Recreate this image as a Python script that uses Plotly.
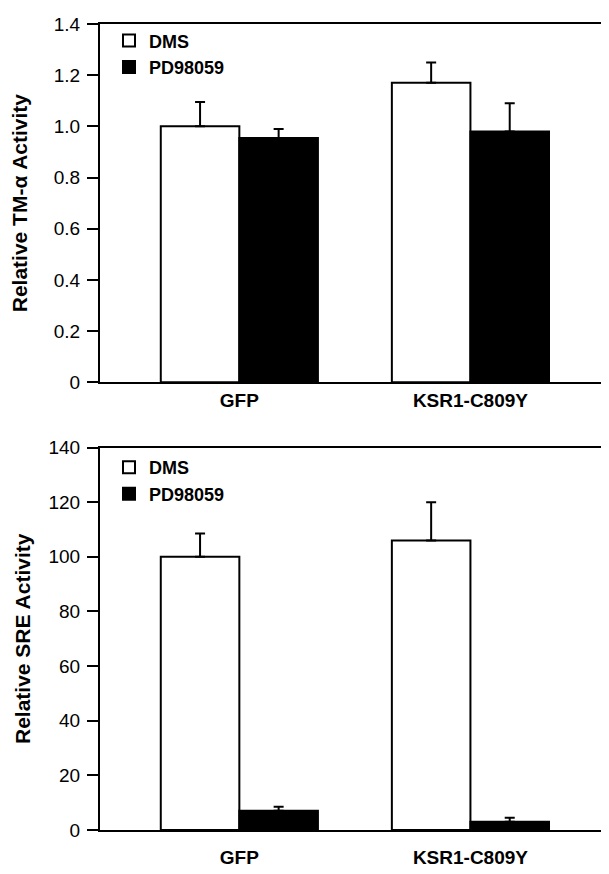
import plotly.graph_objects as go

categories = ["GFP", "KSR1-C809Y"]
series_names = ["DMS", "PD98059"]

tm_dms = [1.0, 1.17]
tm_dms_err = [0.095, 0.08]
tm_pd = [0.955, 0.98]
tm_pd_err = [0.035, 0.11]

sre_dms = [100, 106]
sre_dms_err = [8.5, 14]
sre_pd = [7, 3]
sre_pd_err = [1.5, 1.5]

tm_ticks = [0, 0.2, 0.4, 0.6, 0.8, 1.0, 1.2, 1.4]
tm_ticktext = ["0", "0.2", "0.4", "0.6", "0.8", "1.0", "1.2", "1.4"]
sre_ticks = [0, 20, 40, 60, 80, 100, 120, 140]

FONT = "Liberation Sans, Arial, Helvetica, sans-serif"
xpos = list(range(len(categories)))

fig = go.Figure()

def add_pair(dms, dms_err, pd, pd_err, yaxis, legend, xaxis):
    fig.add_trace(go.Bar(
        x=xpos, y=dms, name="<b>" + series_names[0] + "</b>", xaxis=xaxis, yaxis=yaxis, legend=legend,
        marker=dict(color="white", line=dict(color="black", width=2)),
        error_y=dict(type="data", array=dms_err, arrayminus=[0] * len(dms), symmetric=False,
                     color="black", thickness=2, width=5),
        offsetgroup="a",
    ))
    fig.add_trace(go.Bar(
        x=xpos, y=pd, name="<b>" + series_names[1] + "</b>", xaxis=xaxis, yaxis=yaxis, legend=legend,
        marker=dict(color="black", line=dict(color="black", width=2)),
        error_y=dict(type="data", array=pd_err, arrayminus=[0] * len(pd), symmetric=False,
                     color="black", thickness=2, width=5),
        offsetgroup="b",
    ))

add_pair(tm_dms, tm_dms_err, tm_pd, tm_pd_err, "y", "legend", "x")
add_pair(sre_dms, sre_dms_err, sre_pd, sre_pd_err, "y2", "legend2", "x2")

xr = [-0.603, 1.565]
common_x = dict(range=xr, tickvals=xpos, ticktext=["<b>" + c + "</b>" for c in categories],
                showline=True, linecolor="black",
                linewidth=2, mirror=True, ticks="", showgrid=False, zeroline=False,
                tickfont=dict(family=FONT, size=19, color="black"))
common_y = dict(showline=True, linecolor="black", linewidth=2, mirror=True, ticks="outside",
                ticklen=11, tickwidth=2, tickcolor="black", showgrid=False, zeroline=False,
                tickfont=dict(family=FONT, size=19, color="black"), ticklabelstandoff=3)

top_dom = [0.5555, 1.0]
bot_dom = [0.0, 0.4745]
legfont = dict(family=FONT, size=18, color="black")

fig.update_layout(
    width=601, height=866,
    margin=dict(l=92, r=6, t=9, b=38),
    paper_bgcolor="white", plot_bgcolor="white",
    barmode="group", bargap=0.32, bargroupgap=0,
    xaxis=dict(common_x, domain=[0, 1], anchor="y", ticklabelstandoff=0),
    yaxis=dict(common_y, domain=top_dom, range=[0, 1.4], tickvals=tm_ticks, ticktext=tm_ticktext,
               title=dict(text="<b>Relative TM-α Activity</b>", font=dict(family=FONT, size=21, color="black"), standoff=20),
               anchor="x"),
    xaxis2=dict(common_x, domain=[0, 1], anchor="y2", ticklabelstandoff=9),
    yaxis2=dict(common_y, domain=bot_dom, range=[0, 140], tickvals=sre_ticks,
                title=dict(text="<b>Relative SRE Activity</b>", font=dict(family=FONT, size=21, color="black"), standoff=12),
                anchor="x2"),
    legend=dict(x=0.018, y=top_dom[1] + 0.002, xanchor="left", yanchor="top", bgcolor="rgba(0,0,0,0)",
                font=legfont, tracegroupgap=0, itemwidth=30, traceorder="normal"),
    legend2=dict(x=0.018, y=bot_dom[1] - 0.002, xanchor="left", yanchor="top", bgcolor="rgba(0,0,0,0)",
                 font=legfont, tracegroupgap=0, itemwidth=30, traceorder="normal"),
)

fig.write_html("out.html")
